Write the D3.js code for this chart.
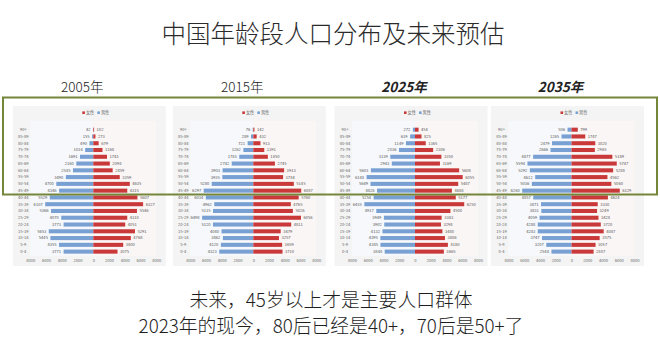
<!DOCTYPE html>
<html>
<head>
<meta charset="utf-8">
<script src="https://cdn.jsdelivr.net/npm/d3@7"></script>
<style>
  html, body { margin: 0; padding: 0; background: #fff; }
  svg { display: block; }
  text { font-family: "Noto Sans CJK SC", "Noto Sans", sans-serif; }
</style>
</head>
<body>
<svg id="chart" width="660" height="349"></svg>
<script>
// Age groups, oldest at the top
const ageGroups = ["90+","85-89","80-84","75-79","70-74","65-69","60-64","55-59","50-54","45-49",
                   "40-44","35-39","30-34","25-29","20-24","15-19","10-14","5-9","0-4"];

const yearLabels = ["2005年","2015年","2025年","2035年"];
const forecastYears = [false, false, true, true];

// Population in ten-thousands, per age group
const male2005   = [42,155,490,1034,1691,2160,2585,3490,4700,4346,5529,6107,5366,4070,3773,5653,5445,4355,3771];
const female2005 = [102,273,679,1168,1743,2098,2459,3359,4635,4315,5607,6327,5546,4310,4051,5291,4768,3800,3075];
const male2015   = [76,289,721,1262,1783,2742,3903,3935,5280,6297,6034,4962,5115,6498,5120,4040,3862,4120,4323];
const female2015 = [142,432,913,1391,1850,2745,3913,3784,5145,6087,5760,4765,5026,6056,4811,3479,3257,3659,3710];
const male2025   = [272,619,1149,2036,3139,2943,5603,6148,5649,4826,5254,6435,4917,3949,3902,4132,4395,4385,3848];
const female2025 = [454,825,1365,2306,3350,3169,5608,6055,5487,4688,5177,6250,4500,3383,3298,3480,3806,4180,3665];
const male2035   = [506,1265,2479,2666,4877,5594,5292,4612,5036,6260,4857,3871,3831,4059,4288,4283,3747,3207,2548];
const female2035 = [799,1747,3020,2965,5189,5747,5288,4562,5060,6129,4624,3330,3249,3428,3720,4087,3575,3057,2807];

const maleSeries   = [male2005, male2015, male2025, male2035];
const femaleSeries = [female2005, female2015, female2025, female2035];

const axisTicks = [-8000,-6000,-4000,-2000,0,2000,4000,6000,8000];
const legendItems = [{name: "女性", color: "#c9393a"}, {name: "男性", color: "#78a0d3"}];

const titleText = "中国年龄段人口分布及未来预估";
const noteLines = ["未来，45岁以上才是主要人口群体", "2023年的现今，80后已经是40+，70后是50+了"];

const MALE = "#78a0d3", FEMALE = "#c9393a";

const svg = d3.select("#chart");

svg.append("text")
  .attr("x", 333).attr("y", 43)
  .attr("text-anchor", "middle")
  .attr("font-size", 24.5)
  .attr("font-weight", 300)
  .attr("fill", "#2b2b2b")
  .text(titleText);

// panel zero-line positions
const centers = [93.3, 253.3, 415, 571.5];
const halfWidth = 63;

const y = d3.scaleBand()
  .domain(ageGroups)
  .range([126.3, 255])
  .paddingInner(0.4)
  .paddingOuter(0.2);

centers.forEach((c, i) => {
  const g = svg.append("g");

  // year heading
  svg.append("text")
    .attr("x", c - 11).attr("y", 92)
    .attr("text-anchor", "middle")
    .attr("font-size", 13.5)
    .attr("font-weight", forecastYears[i] ? 700 : 300)
    .attr("font-style", forecastYears[i] ? "italic" : "normal")
    .attr("fill", "#222")
    .text(yearLabels[i]);

  // panel background
  g.append("rect")
    .attr("x", c - 80.5).attr("y", 106)
    .attr("width", 153).attr("height", 160)
    .attr("fill", "#f4f4f4");

  const x = d3.scaleLinear().domain([-8000, 8000]).range([c - halfWidth, c + halfWidth]);

  // plot area tints
  g.append("rect")
    .attr("x", x(-8000)).attr("y", 121)
    .attr("width", x(0) - x(-8000)).attr("height", 135)
    .attr("fill", "#f6f8fb");
  g.append("rect")
    .attr("x", x(0)).attr("y", 121)
    .attr("width", x(8000) - x(0)).attr("height", 135)
    .attr("fill", "#fbf6f6");

  // legend
  const leg = g.append("g").attr("transform", `translate(${c - 11},113)`);
  legendItems.forEach((d, k) => {
    const lx = k * 15;
    leg.append("rect").attr("x", lx).attr("y", -1.6).attr("width", 2.6).attr("height", 2.6).attr("fill", d.color);
    leg.append("text").attr("x", lx + 3.6).attr("y", 1.4)
      .attr("font-size", 4.2).attr("fill", "#666").text(d.name);
  });

  const male = maleSeries[i], female = femaleSeries[i];
  const rows = ageGroups.map((a, k) => ({age: a, m: male[k], f: female[k]}));

  // male bars (left)
  g.selectAll(".m").data(rows).join("rect")
    .attr("x", d => x(-d.m)).attr("y", d => y(d.age))
    .attr("width", d => x(0) - x(-d.m)).attr("height", y.bandwidth())
    .attr("fill", MALE);
  // female bars (right)
  g.selectAll(".f").data(rows).join("rect")
    .attr("x", x(0)).attr("y", d => y(d.age))
    .attr("width", d => x(d.f) - x(0)).attr("height", y.bandwidth())
    .attr("fill", FEMALE);

  // value labels
  g.selectAll(".ml").data(rows).join("text")
    .attr("x", d => x(-d.m) - 2.5).attr("y", d => y(d.age) + y.bandwidth() / 2 + 1.4)
    .attr("text-anchor", "end").attr("font-size", 4.1).attr("fill", "#555")
    .text(d => d.m);
  g.selectAll(".fl").data(rows).join("text")
    .attr("x", d => x(d.f) + 2.5).attr("y", d => y(d.age) + y.bandwidth() / 2 + 1.4)
    .attr("text-anchor", "start").attr("font-size", 4.1).attr("fill", "#555")
    .text(d => d.f);

  // age category axis
  const ya = g.append("g")
    .attr("transform", `translate(${c - 70},0)`)
    .call(d3.axisLeft(y).tickSize(0).tickPadding(0));
  ya.select(".domain").remove();
  ya.selectAll("text")
    .attr("text-anchor", "middle").attr("x", 0)
    .attr("font-size", 4.1).attr("fill", "#666")
    .attr("font-family", "'Noto Sans', sans-serif");

  // value axis
  const xa = g.append("g")
    .attr("transform", `translate(0,259)`)
    .call(d3.axisBottom(x).tickValues(axisTicks).tickSize(0).tickPadding(0).tickFormat(v => Math.abs(v)));
  xa.select(".domain").remove();
  xa.selectAll("text")
    .attr("font-size", 4.1).attr("fill", "#666")
    .attr("font-family", "'Noto Sans', sans-serif");
});

// highlight frame across the panels
svg.append("rect")
  .attr("x", 3).attr("y", 97.5)
  .attr("width", 654).attr("height", 97)
  .attr("fill", "none")
  .attr("stroke", "#74863a")
  .attr("stroke-width", 2);

noteLines.forEach((t, k) => {
  svg.append("text")
    .attr("x", 331).attr("y", 307 + k * 25.5)
    .attr("text-anchor", "middle")
    .attr("font-size", 18.8)
    .attr("font-weight", 300)
    .attr("fill", "#1e1e1e")
    .text(t);
});
</script>
</body>
</html>
